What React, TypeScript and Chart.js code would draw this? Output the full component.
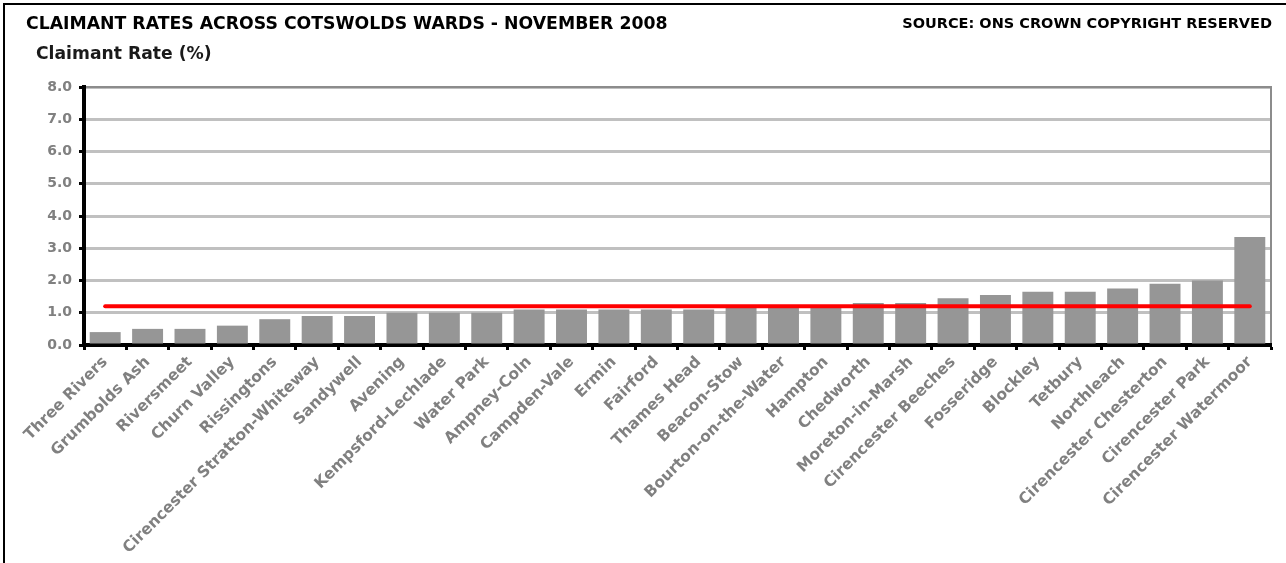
import React, { useEffect, useRef } from 'react';
import { Chart, registerables } from 'chart.js';

Chart.register(...registerables);

const chartTitle = 'CLAIMANT RATES ACROSS COTSWOLDS WARDS - NOVEMBER 2008';
const sourceNote = 'SOURCE: ONS CROWN COPYRIGHT RESERVED';
const axisTitle = 'Claimant Rate (%)';

const wards = [
  'Three Rivers',
  'Grumbolds Ash',
  'Riversmeet',
  'Churn Valley',
  'Rissingtons',
  'Cirencester Stratton-Whiteway',
  'Sandywell',
  'Avening',
  'Kempsford-Lechlade',
  'Water Park',
  'Ampney-Coln',
  'Campden-Vale',
  'Ermin',
  'Fairford',
  'Thames Head',
  'Beacon-Stow',
  'Bourton-on-the-Water',
  'Hampton',
  'Chedworth',
  'Moreton-in-Marsh',
  'Cirencester Beeches',
  'Fosseridge',
  'Blockley',
  'Tetbury',
  'Northleach',
  'Cirencester Chesterton',
  'Cirencester Park',
  'Cirencester Watermoor',
];

const claimantRates = [
  0.4, 0.5, 0.5, 0.6, 0.8, 0.9, 0.9, 1.0, 1.0, 1.0, 1.1, 1.1, 1.1, 1.1,
  1.1, 1.15, 1.15, 1.15, 1.3, 1.3, 1.45, 1.55, 1.65, 1.65, 1.75, 1.9, 2.0, 3.35,
];

const districtAverage = [
  1.2, 1.2, 1.2, 1.2, 1.2, 1.2, 1.2, 1.2, 1.2, 1.2, 1.2, 1.2, 1.2, 1.2,
  1.2, 1.2, 1.2, 1.2, 1.2, 1.2, 1.2, 1.2, 1.2, 1.2, 1.2, 1.2, 1.2, 1.2,
];

const yMin = 0;
const yMax = 8;
const yStep = 1;

const W = 1286;
const H = 563;
const FONT = '"DejaVu Sans", Verdana, sans-serif';

export default function App() {
  const ref = useRef<HTMLCanvasElement>(null);

  useEffect(() => {
    if (!ref.current) return;

    const decor = {
      id: 'decor',
      beforeDraw(chart: any) {
        const ctx = chart.ctx;
        ctx.save();
        ctx.fillStyle = '#ffffff';
        ctx.fillRect(0, 0, W, H);
        ctx.restore();
      },
      afterDraw(chart: any) {
        const ctx = chart.ctx;
        const a = chart.chartArea;
        ctx.save();
        // outer frame (left + top)
        ctx.fillStyle = '#000000';
        ctx.fillRect(3, 3, 2, H - 3);
        ctx.fillRect(3, 3, W - 3, 2);
        // plot area border (top + right)
        ctx.strokeStyle = '#8c8c8c';
        ctx.lineWidth = 2;
        ctx.beginPath();
        ctx.moveTo(a.left + 2, a.top);
        ctx.lineTo(a.right, a.top);
        ctx.lineTo(a.right, a.bottom - 2);
        ctx.stroke();
        // texts
        ctx.fillStyle = '#000000';
        ctx.textBaseline = 'alphabetic';
        ctx.textAlign = 'left';
        ctx.font = `bold 17.3px ${FONT}`;
        ctx.fillText(chartTitle, 26, 29);
        ctx.textAlign = 'right';
        ctx.font = `bold 14.5px ${FONT}`;
        ctx.fillText(sourceNote, 1272, 28);
        ctx.textAlign = 'left';
        ctx.fillStyle = '#1a1a1a';
        ctx.font = `bold 17.2px ${FONT}`;
        ctx.fillText(axisTitle, 36, 59);
        ctx.restore();
      },
    };

    const chart = new Chart(ref.current, {
      type: 'bar',
      data: {
        labels: wards,
        datasets: [
          {
            type: 'line',
            label: 'Cotswolds average',
            data: districtAverage,
            borderColor: '#ff0000',
            borderWidth: 4,
            borderCapStyle: 'round',
            pointRadius: 0,
            fill: false,
            order: 0,
          } as any,
          {
            type: 'bar',
            label: 'Claimant rate',
            data: claimantRates,
            backgroundColor: '#969696',
            borderWidth: 0,
            barPercentage: 0.73,
            categoryPercentage: 1,
            order: 1,
          },
        ],
      },
      options: {
        responsive: false,
        animation: false,
        devicePixelRatio: 1,
        layout: { padding: { top: 87, left: 0, right: 15, bottom: 0 } },
        plugins: {
          legend: { display: false },
          title: { display: false },
          tooltip: { enabled: false },
        },
        scales: {
          x: {
            offset: true,
            afterFit(scale: any) {
              scale.height = H - 345;
            },
            grid: {
              offset: true,
              drawOnChartArea: false,
              drawTicks: true,
              tickLength: 5,
              tickWidth: 3,
              tickColor: '#000000',
              color: '#000000',
            },
            border: { display: true, color: '#000000', width: 4 },
            ticks: {
              autoSkip: false,
              minRotation: 45,
              maxRotation: 45,
              padding: 3,
              color: '#808080',
              font: { family: FONT, size: 15.5, weight: 'bold' },
            },
          },
          y: {
            min: yMin,
            max: yMax,
            afterFit(scale: any) {
              scale.width = 84;
            },
            grid: {
              color: '#c0c0c0',
              lineWidth: 3,
              drawTicks: true,
              tickLength: 5,
              tickWidth: 3,
              tickColor: '#000000',
            },
            border: { display: true, color: '#000000', width: 4 },
            ticks: {
              stepSize: yStep,
              padding: 7,
              color: '#808080',
              font: { family: FONT, size: 14, weight: 'bold' },
              callback: (v: any) => Number(v).toFixed(1),
            },
          },
        },
      },
      plugins: [decor],
    });

    return () => chart.destroy();
  }, []);

  return (
    <div style={{ position: 'absolute', left: 0, top: 0, width: W, height: H, background: '#fff' }}>
      <canvas ref={ref} width={W} height={H} style={{ display: 'block', width: W, height: H }} />
    </div>
  );
}
